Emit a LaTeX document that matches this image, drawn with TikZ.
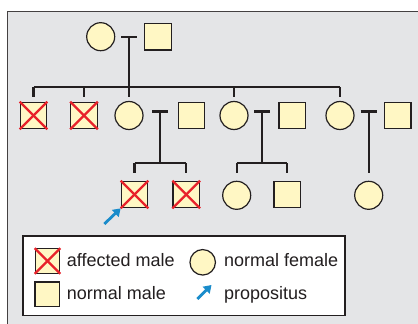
\documentclass[tikz,border=0pt]{standalone}
\usepackage{fontspec}
\setmainfont{Liberation Sans}
\usetikzlibrary{arrows.meta,calc}
\definecolor{bg}{HTML}{E4E5E7}
\definecolor{sym}{HTML}{FFF7C4}
\definecolor{ink}{HTML}{231F20}
\definecolor{xred}{HTML}{E8222B}
\definecolor{pblue}{HTML}{1A8CCB}
\begin{document}
\begin{tikzpicture}[x=1pt,y=-1pt,
  male/.style={draw=ink,fill=sym,line width=1.2pt,minimum size=26.5pt,inner sep=0pt,rectangle},
  female/.style={draw=ink,fill=sym,line width=1.2pt,minimum size=28pt,inner sep=0pt,circle},
  smallmale/.style={male,minimum size=24.5pt},
  smallfemale/.style={female,minimum size=25.5pt},
  link/.style={draw=ink,line width=2.3pt},
  cross/.style={draw=xred,line width=2.2pt},
  parrow/.style={draw=pblue,line width=2.8pt,-{Triangle[length=7.5pt,width=9.5pt]}},
  lab/.style={anchor=base west,inner sep=0pt,text=ink,font=\fontsize{18}{20}\selectfont}]
\useasboundingbox (0,0) rectangle (418,324);
% background panel
\fill[bg] (7.3,11.7) rectangle (418,324);
\draw[ink!85,line width=1.4pt] (418,11.7) -- (7.3,11.7) -- (7.3,324);
% row heights
\coordinate (s2y) at (0,87.3);
\coordinate (d2y) at (0,96.5);
\coordinate (s3y) at (0,163.3);
\coordinate (d3y) at (0,173.3);
% generation I
\node[female] (g1f) at (100.7,36.7) {};
\node[male] (g1m) at (158,36.7) {};
\coordinate (u0) at (129,36.7);
% generation II
\node[male] (a1) at (33.5,115.5) {};
\node[male] (a2) at (84,115.5) {};
\node[female] (f1) at (129,115.5) {};
\node[male] (m1) at (191.5,115.5) {};
\node[female] (f2) at (234,115.5) {};
\node[male] (m2) at (292.3,115.5) {};
\node[female] (f3) at (340,115.5) {};
\node[male] (m3) at (397.7,115.5) {};
\coordinate (u1) at (160,111.5);
\coordinate (u2) at (262,111.5);
\coordinate (u3) at (368.7,111.5);
% generation III
\node[male] (k1) at (134.5,194.5) {};
\node[male] (k2) at (186.2,194.5) {};
\node[female] (k3) at (236.7,195.3) {};
\node[male] (k4) at (287.2,194.5) {};
\node[female] (k5) at (368.7,195.3) {};
% crosses
\foreach \n in {a1,a2,k1,k2}{
  \draw[cross] (\n.north west) -- (\n.south east);
  \draw[cross] (\n.north east) -- (\n.south west);
}
% union bars
\foreach \u in {u0,u1,u2,u3}{
  \draw[link] ($(\u)+(-8,0)$) -- ($(\u)+(8,0)$);
}
% generation I -> II
\draw[link] (u0) -- (u0 |- s2y);
\draw[link] (a1 |- s2y) -- (f3 |- s2y);
\foreach \n in {a1,a2,f1,f2,f3}{
  \draw[link] (\n |- s2y) -- (\n |- d2y);
}
% family 1
\draw[link] (u1) -- (u1 |- s3y);
\draw[link] (k1 |- s3y) -- (k2 |- s3y);
\draw[link] (k1 |- s3y) -- (k1 |- d3y);
\draw[link] (k2 |- s3y) -- (k2 |- d3y);
% family 2
\draw[link] (u2) -- (u2 |- s3y);
\draw[link] (k3 |- s3y) -- (k4 |- s3y);
\draw[link] (k3 |- s3y) -- (k3 |- d3y);
\draw[link] (k4 |- s3y) -- (k4 |- d3y);
% family 3
\draw[link] (u3) -- (u3 |- d3y);
% propositus arrow
\coordinate (pa0) at (104.3,224);
\draw[parrow] (pa0) -- (k1.south west);
% legend
\node[draw=ink,line width=1.3pt,fill=white,minimum width=322pt,minimum height=79.7pt,inner sep=0pt] (legend) at (184,275.85) {};
\node[smallmale] (lx) at (47.5,261) {};
\draw[cross] (lx.north west) -- (lx.south east);
\draw[cross] (lx.north east) -- (lx.south west);
\node[smallmale] (lm) at (47.2,294.3) {};
\node[smallfemale] (lf) at (202.7,262.3) {};
\coordinate (la0) at (197.3,299);
\coordinate (la1) at (211.5,285);
\draw[parrow] (la0) -- (la1);
\node[lab] (t1) at (66.7,266.7) {affected male};
\node[lab] (t2) at (66.7,299) {normal male};
\node[lab] (t3) at (224,266.7) {normal female};
\node[lab] (t4) at (224,299) {propositus};
\end{tikzpicture}
\end{document}
